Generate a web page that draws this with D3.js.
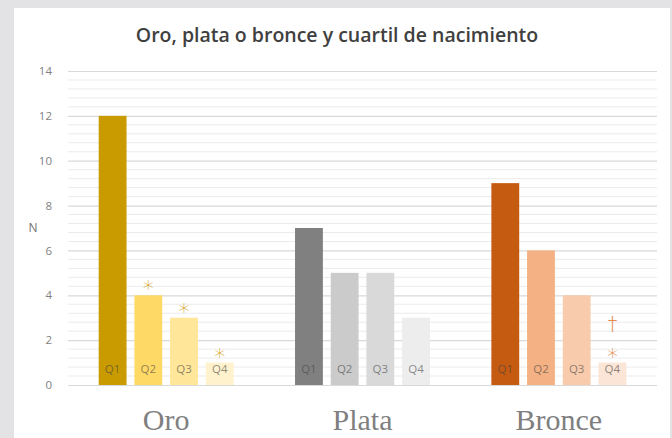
<!DOCTYPE html>
<html>
<head>
<meta charset="utf-8">
<script src="https://cdn.jsdelivr.net/npm/d3@7"></script>
<style>
  body { margin: 0; background: #e3e3e6; }
  svg { display: block; }
</style>
</head>
<body>
<svg id="chart"></svg>
<script>
var width = 672, height = 438;

// data
var medals = ["Oro", "Plata", "Bronce"];
var quartiles = ["Q1", "Q2", "Q3", "Q4"];
var oroValues = [12, 4, 3, 1];
var plataValues = [7, 5, 5, 3];
var bronceValues = [9, 6, 4, 1];
var yTicks = [0, 2, 4, 6, 8, 10, 12, 14];
var marks = [
  {medal: "Oro", q: "Q2", sym: ["*"]},
  {medal: "Oro", q: "Q3", sym: ["*"]},
  {medal: "Oro", q: "Q4", sym: ["*"]},
  {medal: "Bronce", q: "Q4", sym: ["*", "\u2020"]}
];

var colors = {
  Oro: ["#c99b00", "#ffd966", "#ffe699", "#fff2cc"],
  Plata: ["#808080", "#cbcbcb", "#d9d9d9", "#ededed"],
  Bronce: ["#c55a11", "#f4b183", "#f8cbad", "#fbe5d6"]
};
var markColor = {Oro: "#d6a82e", Bronce: "#e58a4c"};

var series = {Oro: oroValues, Plata: plataValues, Bronce: bronceValues};

var svg = d3.select("#chart").attr("width", width).attr("height", height);

// white card over the grey background
svg.append("rect")
  .attr("x", 14).attr("y", 8)
  .attr("width", 656).attr("height", 430)
  .attr("fill", "#ffffff");

var plot = {left: 68, right: 657, top: 71, bottom: 385};

var x0 = d3.scaleBand().domain(medals).range([plot.left, plot.right]);
var x1 = d3.scaleBand().domain(quartiles)
  .range([0, x0.bandwidth()])
  .paddingInner(0.22).paddingOuter(0.86);
var y = d3.scaleLinear().domain([0, 14]).range([plot.bottom, plot.top]);

// minor grid lines
var minor = d3.range(0, 14.01, 0.4).filter(function(v) { return Math.abs(v / 2 - Math.round(v / 2)) > 0.01; });
svg.append("g").selectAll("line")
  .data(minor).enter().append("line")
  .attr("x1", plot.left).attr("x2", plot.right)
  .attr("y1", function(d) { return y(d); }).attr("y2", function(d) { return y(d); })
  .attr("stroke", "#ebebeb").attr("stroke-width", 1);

// major grid via axis
var yAxis = svg.append("g")
  .attr("transform", "translate(" + plot.left + ",0)")
  .call(d3.axisLeft(y).tickValues(yTicks).tickSize(-(plot.right - plot.left)).tickPadding(16));
yAxis.select(".domain").remove();
yAxis.selectAll(".tick line").attr("stroke", "#d9d9d9").attr("stroke-width", 1.2);
yAxis.selectAll(".tick text")
  .attr("fill", "#7f7f7f")
  .style("font-family", "'Open Sans', sans-serif")
  .style("font-size", "11.5px");

svg.append("text")
  .attr("x", 33).attr("y", 232)
  .attr("text-anchor", "middle")
  .attr("fill", "#707070")
  .style("font-family", "'Open Sans', sans-serif")
  .style("font-size", "12px")
  .text("N");

// title
svg.append("text")
  .attr("x", 337).attr("y", 42)
  .attr("text-anchor", "middle")
  .attr("fill", "#404040")
  .style("font-family", "'Open Sans', sans-serif")
  .style("font-weight", "600")
  .style("font-size", "19.5px")
  .text("Oro, plata o bronce y cuartil de nacimiento");

// bars
var groups = svg.append("g").selectAll("g")
  .data(medals).enter().append("g")
  .attr("transform", function(d) { return "translate(" + x0(d) + ",0)"; });

groups.selectAll("rect")
  .data(function(m) { return quartiles.map(function(q, i) { return {medal: m, q: q, i: i, v: series[m][i]}; }); })
  .enter().append("rect")
  .attr("x", function(d) { return x1(d.q); })
  .attr("y", function(d) { return y(d.v); })
  .attr("width", x1.bandwidth())
  .attr("height", function(d) { return y(0) - y(d.v); })
  .attr("fill", function(d) { return colors[d.medal][d.i]; });

groups.selectAll("text.q")
  .data(function(m) { return quartiles.map(function(q) { return {medal: m, q: q}; }); })
  .enter().append("text")
  .attr("class", "q")
  .attr("x", function(d) { return x1(d.q) + x1.bandwidth() / 2; })
  .attr("y", 373)
  .attr("text-anchor", "middle")
  .attr("fill", "#404040")
  .attr("fill-opacity", 0.6)
  .style("font-family", "'Open Sans', sans-serif")
  .style("font-size", "11.5px")
  .text(function(d) { return d.q; });

// significance marks
marks.forEach(function(m) {
  var v = series[m.medal][quartiles.indexOf(m.q)];
  var cx = x0(m.medal) + x1(m.q) + x1.bandwidth() / 2;
  m.sym.forEach(function(s, k) {
    svg.append("text")
      .attr("x", cx)
      .attr("y", k === 0 ? y(v) + 1 : y(v) - 33)
      .attr("text-anchor", "middle")
      .attr("fill", markColor[m.medal])
      .style("font-family", "'DejaVu Sans', sans-serif")
      .style("font-weight", "300")
      .style("font-size", k === 0 ? "22px" : "19px")
      .text(s);
  });
});

// medal labels
svg.append("g").selectAll("text")
  .data(medals).enter().append("text")
  .attr("x", function(d) { return x0(d) + x0.bandwidth() / 2; })
  .attr("y", 430)
  .attr("text-anchor", "middle")
  .attr("fill", "#7f7f7f")
  .style("font-family", "'Liberation Serif', serif")
  .style("font-size", "30px")
  .text(function(d) { return d; });
</script>
</body>
</html>
